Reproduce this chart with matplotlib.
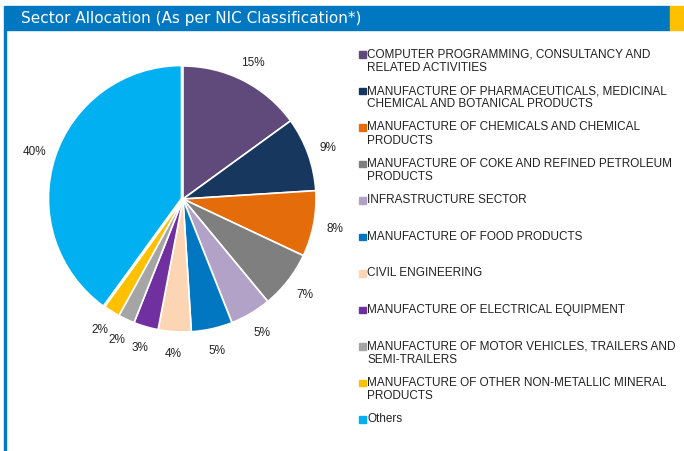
import matplotlib.pyplot as plt
from matplotlib.patches import Rectangle

# data
sectors = ['COMPUTER PROGRAMMING, CONSULTANCY AND\nRELATED ACTIVITIES',
           'MANUFACTURE OF PHARMACEUTICALS, MEDICINAL\nCHEMICAL AND BOTANICAL PRODUCTS',
           'MANUFACTURE OF CHEMICALS AND CHEMICAL\nPRODUCTS',
           'MANUFACTURE OF COKE AND REFINED PETROLEUM\nPRODUCTS',
           'INFRASTRUCTURE SECTOR',
           'MANUFACTURE OF FOOD PRODUCTS',
           'CIVIL ENGINEERING',
           'MANUFACTURE OF ELECTRICAL EQUIPMENT',
           'MANUFACTURE OF MOTOR VEHICLES, TRAILERS AND\nSEMI-TRAILERS',
           'MANUFACTURE OF OTHER NON-METALLIC MINERAL\nPRODUCTS',
           'Others']
weights = [15, 9, 8, 7, 5, 5, 4, 3, 2, 2, 40]
colors = ['#604A7B', '#17375E', '#E46C0A', '#7F7F7F', '#B3A2C7', '#0077C0',
          '#FCD5B5', '#7030A0', '#A5A5A5', '#FFC000', '#00B0F0']

plt.rcParams['font.family'] = ['Liberation Sans', 'DejaVu Sans']

fig = plt.figure(figsize=(6.84, 4.52), dpi=100)
W, H = 684, 452

# header bar and frame
fig.patches.append(Rectangle((4 / W, 1 - 31 / H), 666 / W, 24 / H, transform=fig.transFigure,
                             color='#0078C1', zorder=0))
fig.patches.append(Rectangle((670 / W, 1 - 31 / H), 14 / W, 24 / H, transform=fig.transFigure,
                             color='#FFC000', zorder=0))
fig.patches.append(Rectangle((4 / W, 0), 2 / W, 1 - 31 / H, transform=fig.transFigure,
                             color='#0078C1', zorder=0))
fig.text(21 / W, 1 - 19 / H, 'Sector Allocation (As per NIC Classification*)', color='white',
         fontsize=11, family='DejaVu Sans', va='center', ha='left')

# pie
cx, cy, r = 183, 200, 133
half = 140
ax = fig.add_axes([(cx - half) / W, (H - cy - half) / H, 2 * half / W, 2 * half / H])
explode = [0] * 10 + [0.012]
wedges, texts = ax.pie(weights, colors=colors, startangle=90, counterclock=False,
                       explode=explode, labels=[f'{w}%' for w in weights], labeldistance=1.16,
                       wedgeprops=dict(edgecolor='white', linewidth=1.2),
                       textprops=dict(fontsize=8.5, color='#222222'))
for t in texts:
    t.set_ha('center')
    t.set_va('center')
lim = half / r
ax.set_xlim(-lim, lim)
ax.set_ylim(-lim, lim)
ax.set_aspect('equal')
ax.axis('off')

# legend
y0 = 55
for i, (lab, c) in enumerate(zip(sectors, colors)):
    y = y0 + i * 36.5
    fig.patches.append(Rectangle((359 / W, 1 - (y + 3.5) / H), 6.5 / W, 6.5 / H,
                                 transform=fig.transFigure, color=c))
    fig.text(367 / W, 1 - (y - 6.5) / H, lab, fontsize=8.45, color='#222222', va='top', ha='left',
             linespacing=1.15)

plt.savefig('out.png', dpi=100)
